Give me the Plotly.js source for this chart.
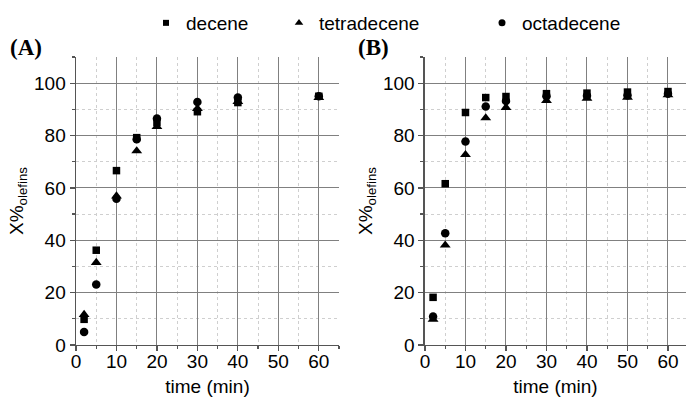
<!DOCTYPE html>
<html><head><meta charset="utf-8">
<script src="https://cdn.plot.ly/plotly-3.0.1.min.js"></script>
<style>html,body{margin:0;padding:0;background:#fff}#c{width:686px;height:398px}</style>
</head><body><div id="c"></div>
<script>
// Panel A
const timeA = [2, 5, 10, 15, 20, 30, 40, 60];
const deceneA = [9.8, 36.2, 66.6, 79.2, 85.0, 89.1, 92.6, 95.0];
const tetradeceneA = [11.6, 31.5, 56.9, 74.1, 83.4, 90.3, 93.0, 94.5];
const octadeceneA = [5.0, 23.1, 55.9, 78.6, 86.5, 92.8, 94.5, 95.0];
// Panel B
const timeB = [2, 5, 10, 15, 20, 30, 40, 50, 60];
const deceneB = [18.2, 61.6, 88.8, 94.5, 94.9, 96.0, 96.2, 96.6, 96.8];
const tetradeceneB = [9.8, 38.1, 72.7, 86.7, 90.7, 93.3, 94.2, 94.6, 95.5];
const octadeceneB = [10.9, 42.7, 77.7, 91.1, 93.2, 95.0, 95.2, 95.3, 96.0];

const names = ['decene', 'tetradecene', 'octadecene'];
const symbols = ['square', 'triangle-up', 'circle'];
const sizes = [7.5, 9.5, 8.5];
const legendSizes = [6, 7.5, 7];
const legendIds = ['legend', 'legend2', 'legend3'];
const seriesA = [deceneA, tetradeceneA, octadeceneA];
const seriesB = [deceneB, tetradeceneB, octadeceneB];

const traces = [];
[2,1,0].forEach(i => {
  traces.push({x: timeA, y: seriesA[i], type: 'scatter', mode: 'markers', name: names[i],
    showlegend: false,
    marker: {symbol: symbols[i], size: sizes[i], color: '#000'}, xaxis: 'x', yaxis: 'y'});
});
[2,1,0].forEach(i => {
  traces.push({x: timeB, y: seriesB[i], type: 'scatter', mode: 'markers', name: names[i],
    showlegend: false,
    marker: {symbol: symbols[i], size: sizes[i], color: '#000'}, xaxis: 'x2', yaxis: 'y2'});
});
// legend-only entries (smaller key symbols, as in the reference)
[0,1,2].forEach(i => {
  traces.push({x: [null], y: [null], type: 'scatter', mode: 'markers', name: names[i],
    showlegend: true, legend: legendIds[i],
    marker: {symbol: symbols[i], size: legendSizes[i], color: '#000'}, xaxis: 'x', yaxis: 'y'});
});

const fam = 'Liberation Sans, Arial, sans-serif';
const fnt = {family: fam, size: 19, color: '#000'};
function xax(domain, range, anchor) {
  return {domain: domain, range: range, anchor: anchor, dtick: 10, tick0: 0,
    showline: true, linecolor: '#555', linewidth: 1.5, mirror: false,
    ticks: 'outside', ticklen: 5, tickcolor: '#555', tickwidth: 1.2,
    ticklabelstandoff: -6,
    showgrid: true, gridcolor: '#808080', gridwidth: 1, zeroline: false,
    tickfont: fnt, title: {text: 'time (min)', font: fnt, standoff: 8},
    minor: {dtick: 5, showgrid: true, gridcolor: '#cfcfcf', griddash: 'dot', gridwidth: 1,
      ticks: 'outside', ticklen: 3, tickcolor: '#555'}};
}
function yax(range, anchor) {
  return {domain: [0.1332, 0.8568], range: range, anchor: anchor, dtick: 20, tick0: 0,
    showline: true, linecolor: '#555', linewidth: 1.5,
    ticks: 'outside', ticklen: 5, tickcolor: '#555', tickwidth: 1.2,
    showgrid: true, gridcolor: '#808080', gridwidth: 1, zeroline: false,
    tickfont: fnt, title: {text: 'X%<sub>olefins</sub>', font: fnt, standoff: 5},
    minor: {dtick: 10, showgrid: true, gridcolor: '#cfcfcf', griddash: 'dot', gridwidth: 1,
      ticks: 'outside', ticklen: 3, tickcolor: '#555'}};
}
function leg(xpx) {
  return {orientation: 'h', x: xpx/686, xanchor: 'left', y: 1 - 4/398, yanchor: 'top',
    font: fnt, itemclick: false, bgcolor: 'rgba(0,0,0,0)'};
}

const layout = {
  width: 686, height: 398,
  margin: {l: 0, r: 0, t: 0, b: 0},
  paper_bgcolor: '#fff', plot_bgcolor: '#fff',
  showlegend: true,
  legend: leg(146), legend2: leg(279), legend3: leg(482),
  xaxis: xax([0.1108, 0.4942], [0, 65], 'y'),
  yaxis: yax([0, 110], 'x'),
  xaxis2: xax([0.6195, 1.0], [0, 64.45], 'y2'),
  yaxis2: yax([0, 110], 'x2'),
  annotations: [
    {text: '<b>(A)</b>', xref: 'paper', yref: 'paper', x: 8/686, y: 1 - 48/398, xanchor: 'left', yanchor: 'middle',
     showarrow: false, font: {family: 'Liberation Serif, Times New Roman, serif', size: 23, color: '#000'}},
    {text: '<b>(B)</b>', xref: 'paper', yref: 'paper', x: 356/686, y: 1 - 47/398, xanchor: 'left', yanchor: 'middle',
     showarrow: false, font: {family: 'Liberation Serif, Times New Roman, serif', size: 23, color: '#000'}}
  ]
};
Plotly.newPlot('c', traces, layout, {displayModeBar: false, staticPlot: true});
</script></body></html>
